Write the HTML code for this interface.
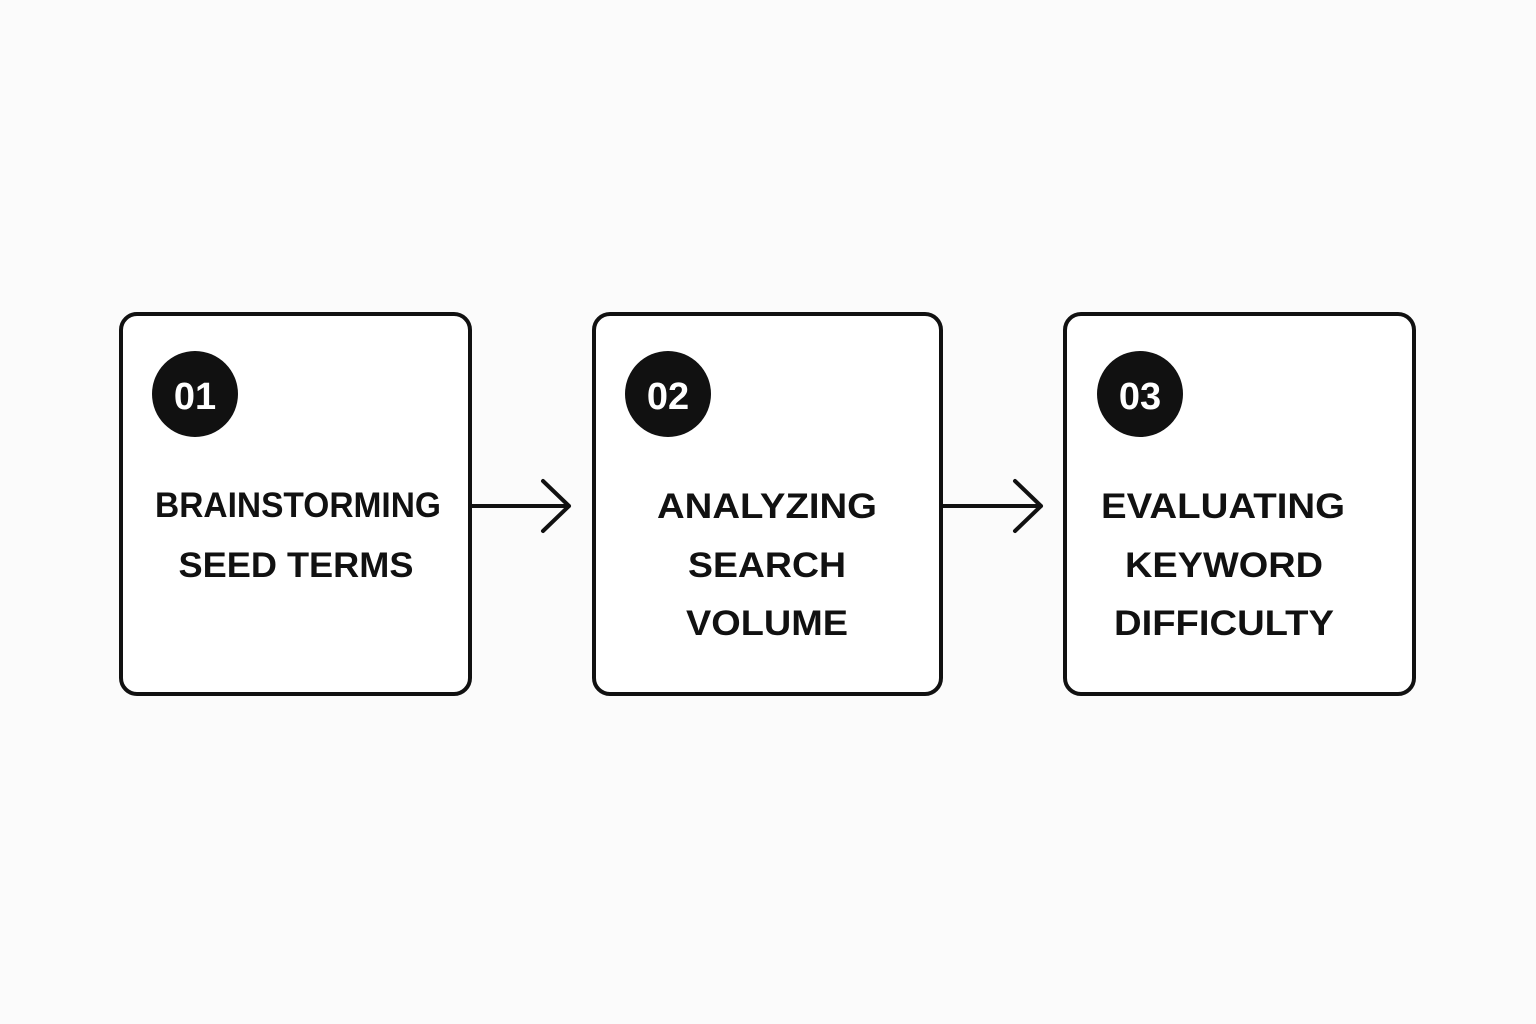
<!DOCTYPE html>
<html><head><meta charset="utf-8"><style>
html,body{margin:0;padding:0;background:#fbfbfb;}
svg{display:block}
text{font-family:"Liberation Sans",sans-serif;font-weight:bold;}
</style></head><body>
<svg width="1536" height="1024" viewBox="0 0 1536 1024">
<rect width="1536" height="1024" fill="#fbfbfb"/>
<g fill="#fff" stroke="#111" stroke-width="4">
<rect x="121" y="314" width="349" height="380" rx="16"/>
<rect x="594" y="314" width="347" height="380" rx="16"/>
<rect x="1065" y="314" width="349" height="380" rx="16"/>
</g>
<g stroke="#111" stroke-width="4" fill="none" stroke-linecap="round" stroke-linejoin="round">
<path d="M472 506 H569 M543 481 L569 506 L543 531"/>
<path d="M943 506 H1041 M1015 481 L1041 506 L1015 531"/>
</g>
<g fill="#111">
<circle cx="195" cy="394" r="43"/>
<circle cx="668" cy="394" r="43"/>
<circle cx="1140" cy="394" r="43"/>
</g>
<g fill="#fff" font-size="38" text-anchor="middle">
<text x="195" y="409">01</text>
<text x="668" y="409">02</text>
<text x="1140" y="409">03</text>
</g>
<g fill="#111" font-size="35" text-anchor="middle">
<text x="298" y="517" textLength="286" lengthAdjust="spacingAndGlyphs">BRAINSTORMING</text>
<text x="296" y="577" textLength="235" lengthAdjust="spacingAndGlyphs">SEED TERMS</text>
<text x="767" y="518" textLength="220" lengthAdjust="spacingAndGlyphs">ANALYZING</text>
<text x="767" y="577" textLength="158" lengthAdjust="spacingAndGlyphs">SEARCH</text>
<text x="767" y="635" textLength="162" lengthAdjust="spacingAndGlyphs">VOLUME</text>
<text x="1223" y="518" textLength="244" lengthAdjust="spacingAndGlyphs">EVALUATING</text>
<text x="1224" y="577" textLength="198" lengthAdjust="spacingAndGlyphs">KEYWORD</text>
<text x="1224" y="635" textLength="220" lengthAdjust="spacingAndGlyphs">DIFFICULTY</text>
</g>
</svg>
</body></html>
